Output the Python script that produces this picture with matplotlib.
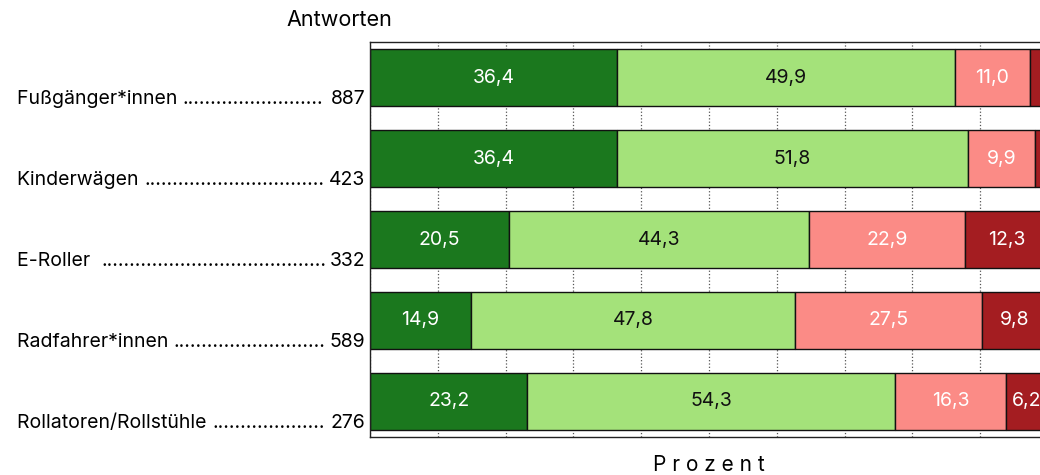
"""
Stacked horizontal bar chart of survey answers (Prozent) per group
"""

import matplotlib
matplotlib.use("Agg")
import matplotlib.pyplot as plt
import matplotlib.transforms as mtransforms
import numpy as np

plt.rcParams['font.family'] = ['Inter', 'DejaVu Sans']

categories = ['Fußgänger*innen', 'Kinderwägen', 'E-Roller ', 'Radfahrer*innen', 'Rollatoren/Rollstühle']
answers = [887, 423, 332, 589, 276]

# shares per answer level, from left (very good) to right (very bad)
sehr_gut = [36.4, 36.4, 20.5, 14.9, 23.2]
eher_gut = [49.9, 51.8, 44.3, 47.8, 54.3]
eher_schlecht = [11.0, 9.9, 22.9, 27.5, 16.3]
sehr_schlecht = [2.7, 1.9, 12.3, 9.8, 6.2]

series = [sehr_gut, eher_gut, eher_schlecht, sehr_schlecht]
colors = ['#1b781e', '#a4e27a', '#fb8b86', '#a41d21']
text_colors = ['white', '#111111', 'white', 'white']

fig = plt.figure(figsize=(10.4, 4.75), dpi=100)
# the plot runs past the right edge of the picture on purpose (100 % is cut off)
ax = fig.add_axes([370 / 1040, 38 / 475, 678 / 1040, 395 / 475])

y = np.arange(len(categories))
left = np.zeros(len(categories))
for values, color, tcolor in zip(series, colors, text_colors):
    values = np.array(values)
    ax.barh(y, values, left=left, height=0.7, color=color,
            edgecolor='#111111', linewidth=1, zorder=2)
    for yi, l, v in zip(y, left, values):
        if v >= 5:
            ax.text(l + v / 2, yi, f'{v:.1f}'.replace('.', ','), ha='center', va='center',
                    color=tcolor, fontsize=14, zorder=3)
    left += values

ax.set_xlim(0, 100)
ax.set_ylim(len(categories) - 1 + 0.44, -0.44)
ax.set_xticks(range(0, 101, 10))
ax.set_yticks([])
ax.tick_params(axis='x', length=0, labelbottom=False)
ax.grid(axis='x', linestyle=':', color='#555555', linewidth=0.9, zorder=0)
ax.set_axisbelow(True)
for spine in ax.spines.values():
    spine.set_color('#222222')
    spine.set_linewidth(1)

ax.set_xlabel('P r o z e n t', fontsize=15, labelpad=13)
fig.text(392 / 1040, 1 - 20 / 475, 'Antworten', ha='right', va='center', fontsize=15.5)

# row labels with dot leaders
trans = mtransforms.blended_transform_factory(fig.transFigure, ax.transData)
fig.canvas.draw()
renderer = fig.canvas.get_renderer()
dot = fig.text(0, 0, '.' * 20, fontsize=14)
dot_w = dot.get_window_extent(renderer).width / 20
dot.remove()

for yi, name, n in zip(y, categories, answers):
    t_name = fig.text(17 / 1040, yi + 0.27, name + ' ', ha='left', va='center',
                      fontsize=14, transform=trans)
    t_num = fig.text(365 / 1040, yi + 0.27, str(n), ha='right', va='center',
                     fontsize=14, transform=trans)
    x0 = t_name.get_window_extent(renderer).x1
    x1 = t_num.get_window_extent(renderer).x0 - 2
    ndots = int((x1 - x0) / dot_w)
    fig.text(x0 / 1040, yi + 0.27, '.' * ndots, ha='left', va='center',
             fontsize=14, transform=trans)

fig.savefig('out.png', dpi=100)
